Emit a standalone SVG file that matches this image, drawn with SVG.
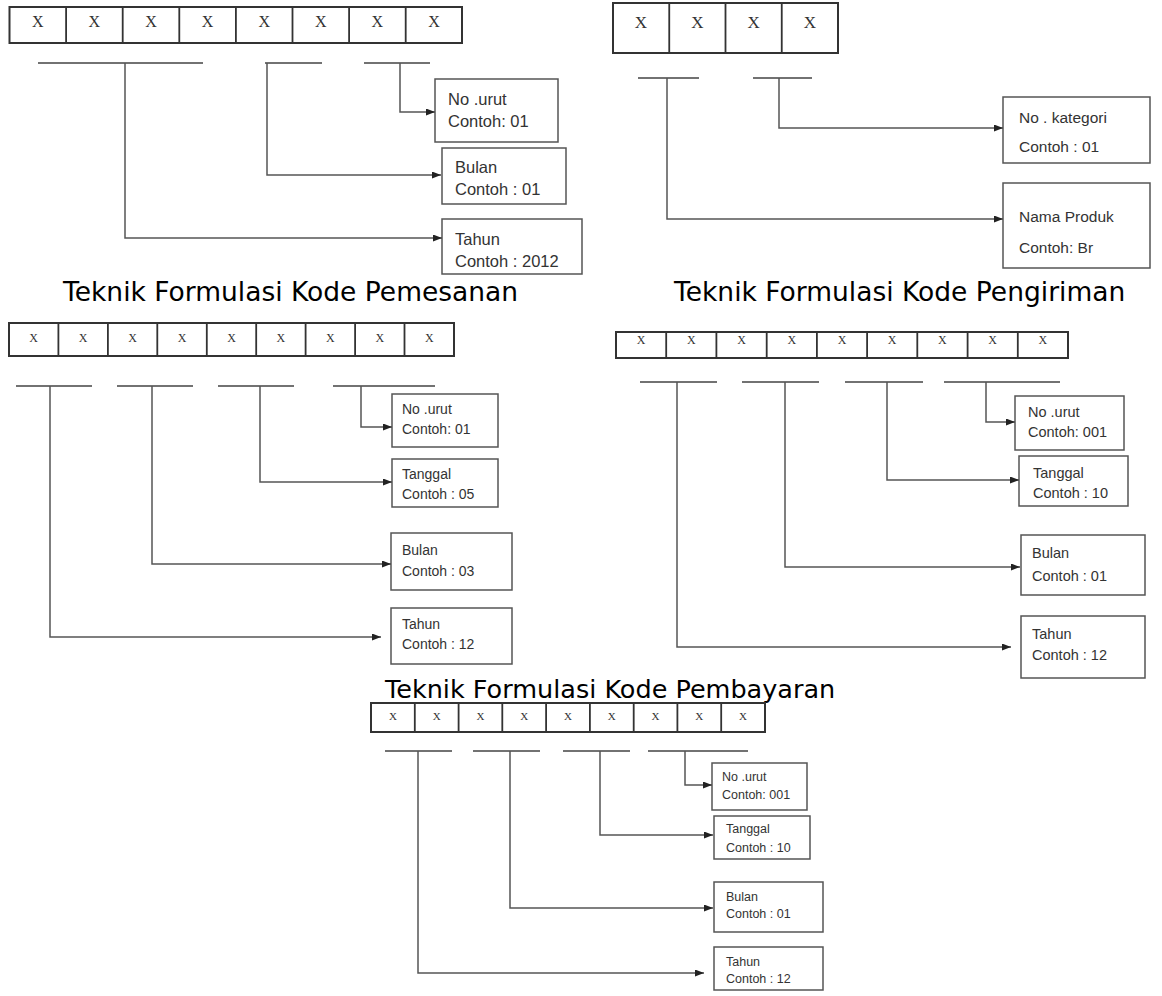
<svg xmlns="http://www.w3.org/2000/svg" width="1162" height="996" viewBox="0 0 1162 996">
<defs>
<marker id="arr" markerUnits="userSpaceOnUse" markerWidth="9" markerHeight="7" refX="9" refY="3.5" orient="auto">
<path d="M0,0 L9,3.5 L0,7 z" fill="#222"/>
</marker>
<style>
.row{fill:#fff;stroke:#333;stroke-width:2}
.div{stroke:#333;stroke-width:1.8;fill:none}
.x{font-family:"Liberation Serif",serif;fill:#333;text-anchor:middle}
.ul{stroke:#444;stroke-width:1.6;fill:none}
.conn{stroke:#555;stroke-width:1.5;fill:none;marker-end:url(#arr)}
.box{fill:#fff;stroke:#555;stroke-width:1.5}
.lbl{font-family:"Liberation Sans",Arial,sans-serif;fill:#333}
.title{font-family:"DejaVu Sans",Verdana,sans-serif;fill:#000}
</style>
</defs>
<rect width="1162" height="996" fill="#fff"/>

<!-- Titles -->
<g id="titles">
<text class="title" x="63" y="301" font-size="26.5">Teknik Formulasi Kode Pemesanan</text>
<text class="title" x="674" y="301" font-size="26.5">Teknik Formulasi Kode Pengiriman</text>
<text class="title" x="385" y="698" font-size="25.5">Teknik Formulasi Kode Pembayaran</text>
</g>

<!-- Section 1 -->
<g id="code1">
<rect class="row" x="9.5" y="7" width="452.5" height="36"/>
<path class="div" d="M66.1 7V43M122.7 7V43M179.3 7V43M235.9 7V43M292.5 7V43M349.1 7V43M405.7 7V43"/>
<g class="x" font-size="16">
<text x="37.8" y="27">X</text><text x="94.4" y="27">X</text><text x="151" y="27">X</text><text x="207.6" y="27">X</text>
<text x="264.2" y="27">X</text><text x="320.8" y="27">X</text><text x="377.4" y="27">X</text><text x="434" y="27">X</text>
</g>
<path class="ul" d="M38 63H203M265 63H322M364 63H430"/>
</g>
<g id="code1-nourut"><rect class="box" x="435" y="79" width="123" height="63"/>
<text class="lbl" font-size="16.5" x="448" y="105">No .urut</text><text class="lbl" font-size="16.5" x="448" y="127">Contoh: 01</text></g>
<g id="code1-bulan"><rect class="box" x="442" y="148" width="124" height="56"/>
<text class="lbl" font-size="16.5" x="455" y="173">Bulan</text><text class="lbl" font-size="16.5" x="455" y="195">Contoh : 01</text></g>
<g id="code1-tahun"><rect class="box" x="442" y="219" width="140" height="55"/>
<text class="lbl" font-size="16.5" x="455" y="245">Tahun</text><text class="lbl" font-size="16.5" x="455" y="267">Contoh : 2012</text></g>

<!-- Section 4 (top right) -->
<g id="code4">
<rect class="row" x="613" y="3" width="225" height="50"/>
<path class="div" d="M669.25 3V53M725.5 3V53M781.75 3V53"/>
<g class="x" font-size="17">
<text x="641" y="28">X</text><text x="697.4" y="28">X</text><text x="753.6" y="28">X</text><text x="810" y="28">X</text>
</g>
<path class="ul" d="M638 78H699M753 78H812"/>
</g>
<g id="code4-kategori"><rect class="box" x="1003" y="97" width="147" height="66"/>
<text class="lbl" font-size="15.5" x="1019" y="123">No . kategori</text><text class="lbl" font-size="15.5" x="1019" y="152">Contoh : 01</text></g>
<g id="code4-produk"><rect class="box" x="1003" y="183" width="147" height="85"/>
<text class="lbl" font-size="15.5" x="1019" y="222">Nama Produk</text><text class="lbl" font-size="15.5" x="1019" y="253">Contoh: Br</text></g>

<!-- Section 2 -->
<g id="code2">
<rect class="row" x="9" y="323" width="445" height="33"/>
<path class="div" d="M58.4 323V356M107.9 323V356M157.3 323V356M206.8 323V356M256.2 323V356M305.6 323V356M355.1 323V356M404.5 323V356"/>
<g class="x" font-size="12">
<text x="33.7" y="342">X</text><text x="83.2" y="342">X</text><text x="132.6" y="342">X</text><text x="182" y="342">X</text><text x="231.5" y="342">X</text>
<text x="280.9" y="342">X</text><text x="330.4" y="342">X</text><text x="379.8" y="342">X</text><text x="429.3" y="342">X</text>
</g>
<path class="ul" d="M16 386H92M117 386H193M218 386H294M333 386H435"/>
</g>
<g id="code2-nourut"><rect class="box" x="392" y="394" width="106" height="53"/>
<text class="lbl" font-size="14" x="402" y="414">No .urut</text><text class="lbl" font-size="14" x="402" y="434">Contoh: 01</text></g>
<g id="code2-tanggal"><rect class="box" x="392" y="459" width="106" height="48"/>
<text class="lbl" font-size="14" x="402" y="479">Tanggal</text><text class="lbl" font-size="14" x="402" y="499">Contoh : 05</text></g>
<g id="code2-bulan"><rect class="box" x="391" y="533" width="121" height="57"/>
<text class="lbl" font-size="14" x="402" y="555">Bulan</text><text class="lbl" font-size="14" x="402" y="576">Contoh : 03</text></g>
<g id="code2-tahun"><rect class="box" x="391" y="608" width="121" height="56"/>
<text class="lbl" font-size="14" x="402" y="629">Tahun</text><text class="lbl" font-size="14" x="402" y="649">Contoh : 12</text></g>

<!-- Section 3 -->
<g id="code3">
<rect class="row" x="616" y="332" width="452" height="26"/>
<path class="div" d="M666.2 332V358M716.4 332V358M766.7 332V358M816.9 332V358M867.1 332V358M917.3 332V358M967.6 332V358M1017.8 332V358"/>
<g class="x" font-size="12">
<text x="641.1" y="344">X</text><text x="691.3" y="344">X</text><text x="741.6" y="344">X</text><text x="791.8" y="344">X</text><text x="842" y="344">X</text>
<text x="892.2" y="344">X</text><text x="942.4" y="344">X</text><text x="992.7" y="344">X</text><text x="1042.9" y="344">X</text>
</g>
<path class="ul" d="M640 382H717M742 382H819M845 382H923M944 382H1060"/>
</g>
<g id="code3-nourut"><rect class="box" x="1015" y="396" width="109" height="54"/>
<text class="lbl" font-size="14.5" x="1028" y="417">No .urut</text><text class="lbl" font-size="14.5" x="1028" y="437">Contoh: 001</text></g>
<g id="code3-tanggal"><rect class="box" x="1019" y="456" width="109" height="50"/>
<text class="lbl" font-size="14.5" x="1033" y="478">Tanggal</text><text class="lbl" font-size="14.5" x="1033" y="498">Contoh : 10</text></g>
<g id="code3-bulan"><rect class="box" x="1021" y="535" width="124" height="60"/>
<text class="lbl" font-size="14.5" x="1032" y="558">Bulan</text><text class="lbl" font-size="14.5" x="1032" y="581">Contoh : 01</text></g>
<g id="code3-tahun"><rect class="box" x="1021" y="616" width="124" height="62"/>
<text class="lbl" font-size="14.5" x="1032" y="639">Tahun</text><text class="lbl" font-size="14.5" x="1032" y="660">Contoh : 12</text></g>

<!-- Section 5 -->
<g id="code5">
<rect class="row" x="371" y="703" width="394" height="29"/>
<path class="div" d="M414.8 703V732M458.6 703V732M502.3 703V732M546.1 703V732M589.9 703V732M633.7 703V732M677.4 703V732M721.2 703V732"/>
<g class="x" font-size="11">
<text x="392.9" y="720">X</text><text x="436.7" y="720">X</text><text x="480.4" y="720">X</text><text x="524.2" y="720">X</text><text x="568" y="720">X</text>
<text x="611.8" y="720">X</text><text x="655.6" y="720">X</text><text x="699.3" y="720">X</text><text x="743.1" y="720">X</text>
</g>
<path class="ul" d="M385 751H452M473 751H540M563 751H630M648 751H748"/>
</g>
<g id="code5-nourut"><rect class="box" x="712" y="763" width="95" height="47"/>
<text class="lbl" font-size="12.5" x="722" y="781">No .urut</text><text class="lbl" font-size="12.5" x="722" y="799">Contoh: 001</text></g>
<g id="code5-tanggal"><rect class="box" x="714" y="816" width="96" height="43"/>
<text class="lbl" font-size="12.5" x="726" y="833">Tanggal</text><text class="lbl" font-size="12.5" x="726" y="852">Contoh : 10</text></g>
<g id="code5-bulan"><rect class="box" x="714" y="882" width="109" height="50"/>
<text class="lbl" font-size="12.5" x="726" y="901">Bulan</text><text class="lbl" font-size="12.5" x="726" y="918">Contoh : 01</text></g>
<g id="code5-tahun"><rect class="box" x="714" y="947" width="109" height="43"/>
<text class="lbl" font-size="12.5" x="726" y="966">Tahun</text><text class="lbl" font-size="12.5" x="726" y="983">Contoh : 12</text></g>

<!-- Connectors -->
<g id="connectors">
<path class="conn" d="M400 63V112H435"/>
<path class="conn" d="M267 63V175H441"/>
<path class="conn" d="M125 63V238H442"/>
<path class="conn" d="M779 78V128H1003"/>
<path class="conn" d="M667 78V219H1003"/>
<path class="conn" d="M361 386V427H392"/>
<path class="conn" d="M260 386V482H392"/>
<path class="conn" d="M152 386V564H391"/>
<path class="conn" d="M50 386V637H381"/>
<path class="conn" d="M986 382V422H1015"/>
<path class="conn" d="M887 382V480H1019"/>
<path class="conn" d="M785 382V567H1020"/>
<path class="conn" d="M677 382V647H1011"/>
<path class="conn" d="M685 751V785H712"/>
<path class="conn" d="M600 751V835H713"/>
<path class="conn" d="M510 751V908H713"/>
<path class="conn" d="M418 751V973H704"/>
</g>
</svg>
